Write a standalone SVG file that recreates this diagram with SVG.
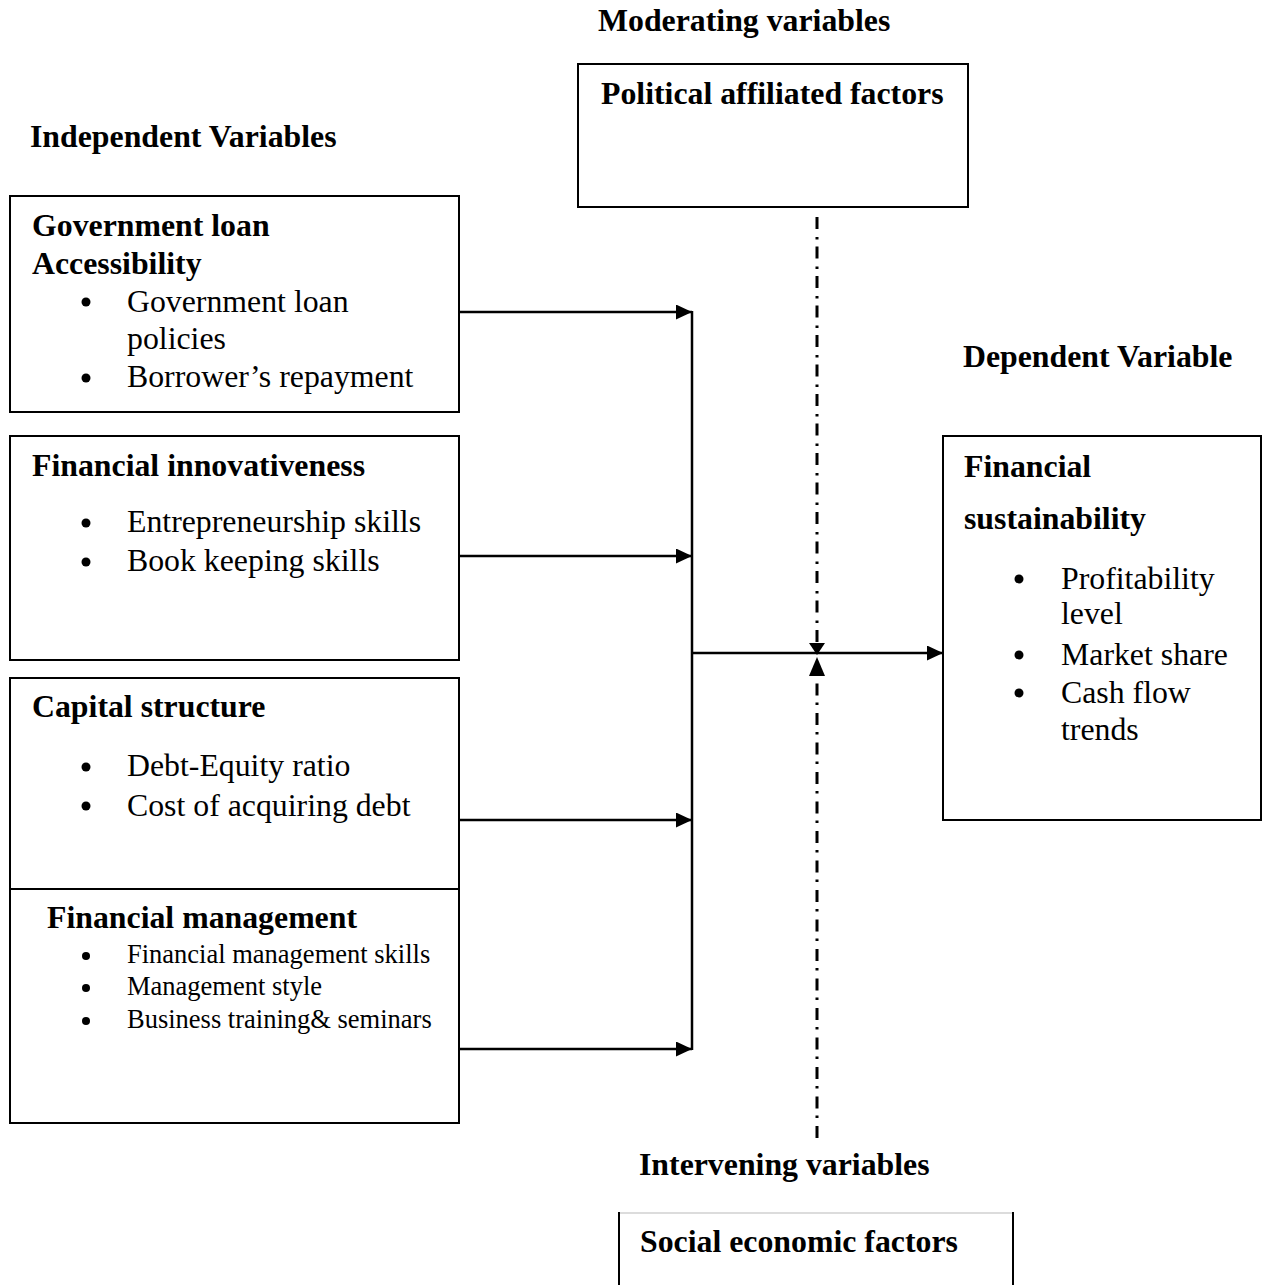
<svg xmlns="http://www.w3.org/2000/svg" width="1262" height="1285" viewBox="0 0 1262 1285">
<style>
text{font-family:"Liberation Serif","Times New Roman",serif;fill:#000}
.b{font-weight:bold;font-size:31.8px}
.r{font-size:31.8px}
.s{font-size:26.5px}
.box{fill:#fff;stroke:#000;stroke-width:2}
.ln{stroke:#000;stroke-width:2.5;fill:none}
.dd{stroke:#000;stroke-width:3;fill:none;stroke-dasharray:12 8 2.5 7}
.dot{fill:#000}
</style>
<defs>
<marker id="ah" viewBox="0 0 16 15" refX="16" refY="7.5" markerWidth="16" markerHeight="15" markerUnits="userSpaceOnUse" orient="auto">
<path d="M0,0 L16,7.5 L0,15 Z" fill="#000"/>
</marker>
</defs>

<g id="labels">
<text class="b" x="598" y="31">Moderating variables</text>
<text class="b" x="30" y="147">Independent Variables</text>
<text class="b" x="963" y="367">Dependent Variable</text>
<text class="b" x="639" y="1175">Intervening variables</text>
</g>

<g id="political">
<rect class="box" x="578" y="64" width="390" height="143"/>
<text class="b" x="601" y="104">Political affiliated factors</text>
</g>

<g id="gov-loan">
<rect class="box" x="10" y="196" width="449" height="216"/>
<text class="b" x="32" y="236">Government loan</text>
<text class="b" x="32" y="274">Accessibility</text>
<circle class="dot" cx="86" cy="302" r="4.5"/>
<text class="r" x="127" y="312">Government loan</text>
<text class="r" x="127" y="349">policies</text>
<circle class="dot" cx="86" cy="378" r="4.5"/>
<text class="r" x="127" y="387">Borrower’s repayment</text>
</g>

<g id="fin-innov">
<rect class="box" x="10" y="436" width="449" height="224"/>
<text class="b" x="32" y="476">Financial innovativeness</text>
<circle class="dot" cx="86" cy="523" r="4.5"/>
<text class="r" x="127" y="532">Entrepreneurship skills</text>
<circle class="dot" cx="86" cy="562" r="4.5"/>
<text class="r" x="127" y="571">Book keeping skills</text>
</g>

<g id="capital">
<rect class="box" x="10" y="678" width="449" height="211"/>
<text class="b" x="32" y="717">Capital structure</text>
<circle class="dot" cx="86" cy="767" r="4.5"/>
<text class="r" x="127" y="776">Debt-Equity ratio</text>
<circle class="dot" cx="86" cy="806" r="4.5"/>
<text class="r" x="127" y="816">Cost of acquiring debt</text>
</g>

<g id="fin-mgmt">
<rect class="box" x="10" y="889" width="449" height="234"/>
<text class="b" x="47" y="928">Financial management</text>
<circle class="dot" cx="86" cy="956" r="4"/>
<text class="s" x="127" y="963">Financial management skills</text>
<circle class="dot" cx="86" cy="988" r="4"/>
<text class="s" x="127" y="995">Management style</text>
<circle class="dot" cx="86" cy="1021" r="4"/>
<text class="s" x="127" y="1028">Business training&amp; seminars</text>
</g>

<g id="fin-sust">
<rect class="box" x="943" y="436" width="318" height="384"/>
<text class="b" x="964" y="477">Financial</text>
<text class="b" x="964" y="529">sustainability</text>
<circle class="dot" cx="1019" cy="579" r="4.5"/>
<text class="r" x="1061" y="589">Profitability</text>
<text class="r" x="1061" y="624">level</text>
<circle class="dot" cx="1019" cy="655" r="4.5"/>
<text class="r" x="1061" y="665">Market share</text>
<circle class="dot" cx="1019" cy="693" r="4.5"/>
<text class="r" x="1061" y="703">Cash flow</text>
<text class="r" x="1061" y="740">trends</text>
</g>

<g id="social">
<line x1="619" y1="1213" x2="1013" y2="1213" stroke="#d0d0d0" stroke-width="1.5"/>
<line x1="619" y1="1212" x2="619" y2="1285" stroke="#000" stroke-width="2"/>
<line x1="1013" y1="1212" x2="1013" y2="1285" stroke="#000" stroke-width="2"/>
<text class="b" x="640" y="1252">Social economic factors</text>
</g>

<g id="connectors">
<line class="ln" x1="459" y1="312" x2="692" y2="312" marker-end="url(#ah)"/>
<line class="ln" x1="459" y1="556" x2="692" y2="556" marker-end="url(#ah)"/>
<line class="ln" x1="459" y1="820" x2="692" y2="820" marker-end="url(#ah)"/>
<line class="ln" x1="459" y1="1049" x2="692" y2="1049" marker-end="url(#ah)"/>
<line class="ln" x1="692" y1="311" x2="692" y2="1050" stroke-width="2"/>
<line class="ln" x1="692" y1="653" x2="943" y2="653" marker-end="url(#ah)"/>
<line class="dd" x1="817" y1="217" x2="817" y2="643"/>
<polygon points="809,643 825,643 817,655" fill="#000"/>
<line class="dd" x1="817" y1="1138" x2="817" y2="676"/>
<polygon points="809,676 825,676 817,657" fill="#000"/>
</g>
</svg>
